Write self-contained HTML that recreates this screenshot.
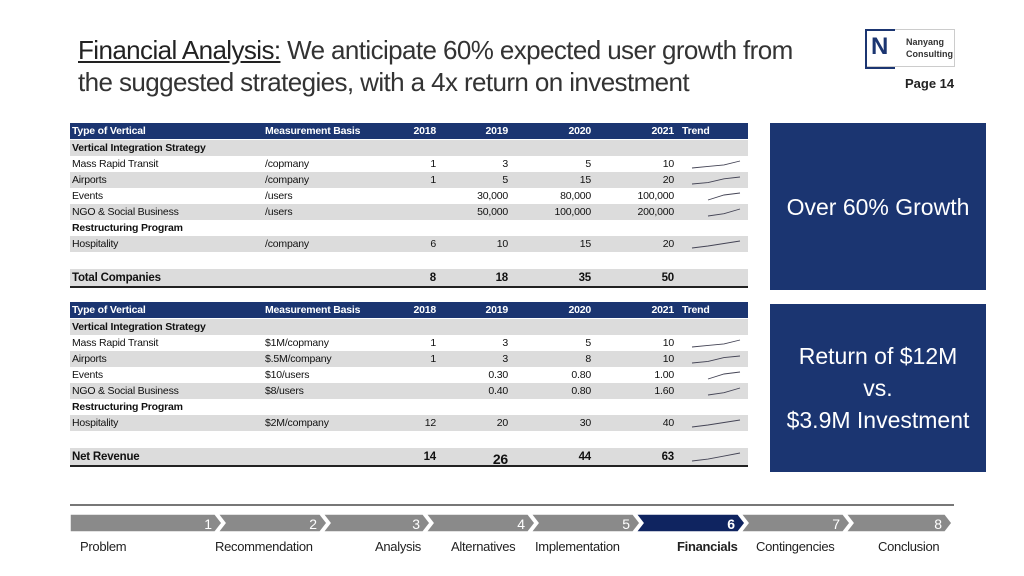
<!DOCTYPE html>
<html><head><meta charset="utf-8"><style>
body{margin:0;width:1024px;height:576px;background:#fff;position:relative;overflow:hidden;font-family:"Liberation Sans",sans-serif;}
.abs{position:absolute;}
.title{left:78px;top:34px;font-size:26px;color:#333;line-height:32px;letter-spacing:-0.6px;}
.box{position:absolute;background:#1b3571;color:#fff;display:flex;align-items:center;justify-content:center;text-align:center;font-size:23px;line-height:32px;}
.cell{position:absolute;font-size:10.5px;color:#111;white-space:nowrap;letter-spacing:-0.2px;}
.nav-lbl{position:absolute;top:539px;font-size:13px;color:#222;letter-spacing:-0.3px;}
</style></head><body>
<div class="abs title"><span style="text-decoration:underline;color:#222">Financial Analysis:</span> We anticipate 60% expected user growth from<br>the suggested strategies, with a 4x return on investment</div>
<div class="abs" style="left:865px;top:29px;width:88px;height:36px;border:1px solid #ccc;">
  <div class="abs" style="left:-1px;top:-1px;width:28px;height:36px;border:2px solid #1b3571;border-right:none;"></div>
  <div class="abs" style="left:5px;top:3px;font-size:24px;font-weight:bold;color:#1b3571;">N</div>
  <div class="abs" style="left:40px;top:6px;font-size:9px;line-height:12px;color:#333;font-weight:bold;">Nanyang<br>Consulting</div>
</div>
<div class="abs" style="left:905px;top:76px;font-size:13px;font-weight:bold;color:#222;">Page 14</div>
<div id="tables"></div>
<div class="box" style="left:770px;top:123px;width:216px;height:167px;">Over 60% Growth</div>
<div class="box" style="left:770px;top:304px;width:216px;height:168px;">Return of $12M<br>vs.<br>$3.9M Investment</div>
<div class="abs" style="left:70px;top:504px;width:884px;height:2px;background:#777;"></div>
<svg class="abs" style="left:0;top:0" width="1024" height="576" id="navsvg"></svg>
<div id="navlabels"></div>
<script>
const years=["2018","2019","2020","2021"];
const t1Names=["Mass Rapid Transit","Airports","Events","NGO & Social Business","Hospitality"];
const t1Basis=["/copmany","/company","/users","/users","/company"];
const t1Vals=[[1,3,5,10],[1,5,15,20],[null,30000,80000,100000],[null,50000,100000,200000],[6,10,15,20]];
const t1Total=[8,18,35,50];
const t2Basis=["$1M/copmany","$.5M/company","$10/users","$8/users","$2M/company"];
const t2Vals=[[1,3,5,10],[1,3,8,10],[null,0.3,0.8,1.0],[null,0.4,0.8,1.6],[12,20,30,40]];
const t2Total=[14,26,44,63];
const navSteps=["Problem","Recommendation","Analysis","Alternatives","Implementation","Financials","Contingencies","Conclusion"];

const root=document.getElementById('tables');
const colR=[436,508,591,674];
function fmt(v,dec){if(v==null)return"";return dec?v.toFixed(2):v.toLocaleString('en-US');}
function cell(txt,x,y,opts){const d=document.createElement('div');d.className='cell';d.textContent=txt;
 d.style.top=(y+2)+'px';if(opts&&opts.right){d.style.right=(1024-x)+'px';}else d.style.left=x+'px';
 if(opts&&opts.bold)d.style.fontWeight='bold';if(opts&&opts.color)d.style.color=opts.color;if(opts&&opts.size)d.style.fontSize=opts.size;
 root.appendChild(d);return d;}
function band(y,h,color,name){const d=document.createElement('div');d.className='abs';d.style.cssText=`left:70px;top:${y}px;width:678px;height:${h}px;background:${color}`;
 
 
 root.appendChild(d);return d;}
function spark(vals,y,h,name){const pts=[];const nn=vals.filter(v=>v!=null);const mn=Math.min(...nn),mx=Math.max(...nn);
 vals.forEach((v,i)=>{if(v==null)return;const x=692+i*(48/3);const yy=y+h-4-(v-mn)/(mx-mn||1)*(h-9);pts.push(x+','+yy);});
 const s=document.createElementNS('http://www.w3.org/2000/svg','svg');s.setAttribute('width','1024');s.setAttribute('height','576');s.style.cssText='position:absolute;left:0;top:0;';
 const p=document.createElementNS('http://www.w3.org/2000/svg','polyline');p.setAttribute('points',pts.join(' '));p.setAttribute('fill','none');p.setAttribute('stroke','#445');p.setAttribute('stroke-width','0.9');
 
 
 s.appendChild(p);root.appendChild(s);}
function table(top,basis,vals,total,totalName,dec,prefix){
 band(top,16,'#1b3571',prefix+'-header');
 cell("Type of Vertical",72,top,{bold:true,color:'#fff'});cell("Measurement Basis",265,top,{bold:true,color:'#fff'});
 years.forEach((yr,i)=>cell(yr,colR[i],top,{bold:true,color:'#fff',right:true}));cell("Trend",682,top,{bold:true,color:'#fff'});
 const rowTypes=[['sec','Vertical Integration Strategy'],['d',0],['d',1],['d',2],['d',3],['sec','Restructuring Program'],['d',4]];
 let y=top+17;
 rowTypes.forEach((r,k)=>{const gray=k%2==0; if(gray)band(y,16,'#dcdcdc',prefix+'-row-band');
  if(r[0]=='sec'){cell(r[1],72,y,{bold:true});}
  else{const i=r[1];cell(t1Names[i],72,y);cell(basis[i],265,y);
   vals[i].forEach((v,j)=>cell(fmt(v,dec&&(i==2||i==3)),colR[j],y,{right:true}));spark(vals[i],y,16,prefix+'-trend-'+i);}
  y+=16;});
 const ty=y+17;band(ty,17,'#dcdcdc',prefix+'-total-band');
 const bl=document.createElement('div');bl.className='abs';bl.style.cssText=`left:70px;top:${ty+17}px;width:678px;height:2px;background:#222`;
 
 
 root.appendChild(bl);
 cell(totalName,72,ty+1,{bold:true,size:'11.5px'});
 total.forEach((v,j)=>cell(String(v),colR[j],ty+1,{bold:true,right:true,size:(prefix=='revenue'&&j==1)?'14px':'11.5px'}));
 if(prefix=='revenue')spark(total,ty,17,prefix+'-total-trend');
}
table(123,t1Basis,t1Vals,t1Total,"Total Companies",false,'growth');
table(302,t2Basis,t2Vals,t2Total,"Net Revenue",true,'revenue');

const svg=document.getElementById('navsvg');const nl=document.getElementById('navlabels');
const bounds=[70,222,327,430,535,640,745,850,952];
const lblX=[80,215,375,451,535,677,756,878];
navSteps.forEach((s,i)=>{const x0=bounds[i],x1=bounds[i+1],t=514,b=532,m=523,a=7;
 const p=document.createElementNS('http://www.w3.org/2000/svg','polygon');
 const pts=i==0?`${x0},${t} ${x1-a},${t} ${x1},${m} ${x1-a},${b} ${x0},${b}`:`${x0-a+3},${t} ${x1-a},${t} ${x1},${m} ${x1-a},${b} ${x0-a+3},${b} ${x0+3},${m}`;
 p.setAttribute('points',pts);p.setAttribute('fill',i==5?'#0f2460':'#8a8a8a');p.setAttribute('stroke','#fff');p.setAttribute('stroke-width','1.5');
 
 
 svg.appendChild(p);
 const tx=document.createElementNS('http://www.w3.org/2000/svg','text');tx.setAttribute('x',x1-10);tx.setAttribute('y',529);tx.setAttribute('text-anchor','end');
 tx.setAttribute('fill','#fff');tx.setAttribute('font-size','14');tx.setAttribute('font-family','Liberation Sans, sans-serif');if(i==5)tx.setAttribute('font-weight','bold');tx.textContent=String(i+1);
 
 
 svg.appendChild(tx);
 const d=document.createElement('div');d.className='nav-lbl';d.style.left=lblX[i]+'px';d.textContent=s;if(i==5)d.style.fontWeight='bold';
 
 
 nl.appendChild(d);});
</script>
</body></html>
